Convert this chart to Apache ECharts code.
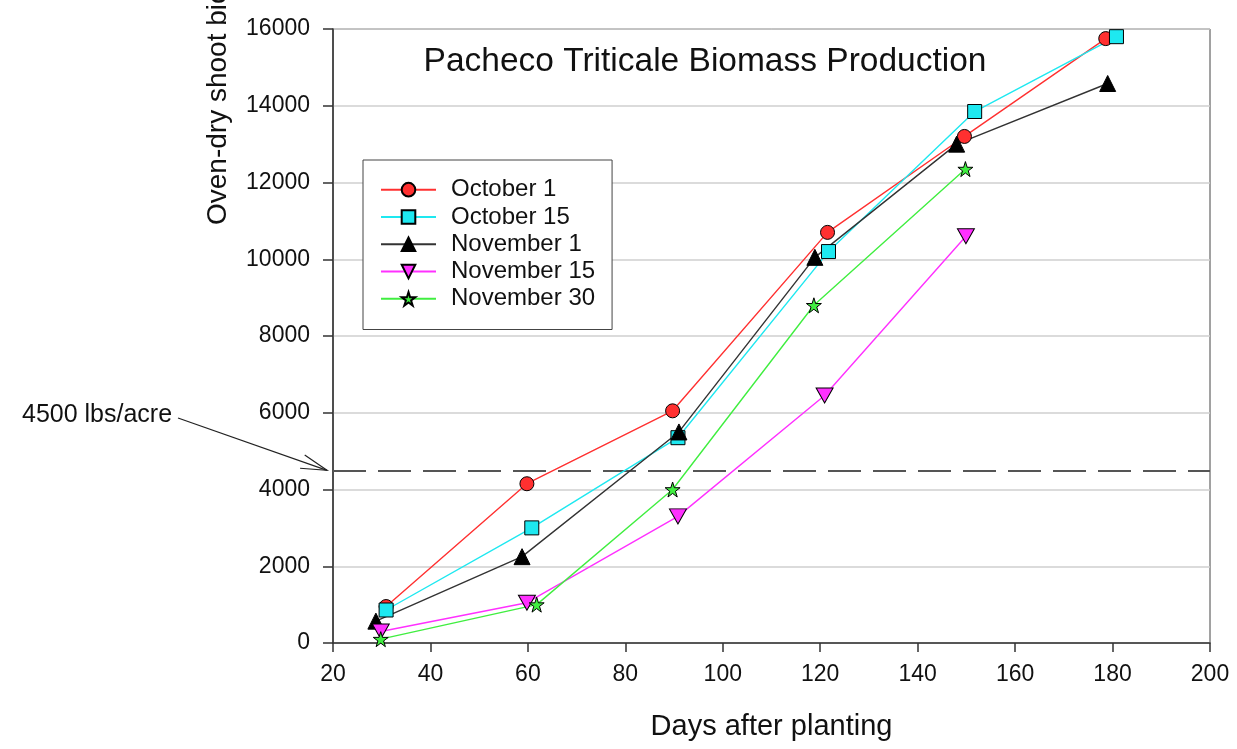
<!DOCTYPE html>
<html>
<head>
<meta charset="utf-8">
<script src="https://cdn.jsdelivr.net/npm/echarts@6/dist/echarts.min.js"></script>
<style>
  html, body { margin: 0; padding: 0; background: #fff; }
  #chart { width: 1237px; height: 749px; }
</style>
</head>
<body>
<div id="chart"></div>
<script>
// Days after planting (x) and oven-dry shoot biomass in lbs/acre (y), per planting date
const seriesNames = ['October 1', 'October 15', 'November 1', 'November 15', 'November 30'];

const october1 = [[30.9, 950], [59.8, 4150], [89.7, 6050], [121.5, 10700], [149.6, 13200], [178.6, 15750]];
const october15 = [[30.9, 860], [60.8, 3000], [90.8, 5350], [121.7, 10200], [151.7, 13850], [180.8, 15800]];
const november1 = [[28.8, 570], [58.8, 2250], [91.0, 5500], [118.9, 10050], [148.0, 13000], [179.0, 14580]];
const november15 = [[29.8, 300], [59.8, 1050], [90.8, 3300], [120.9, 6450], [149.9, 10600]];
const november30 = [[29.8, 100], [61.8, 1000], [89.7, 4000], [118.7, 8800], [149.8, 12350]];

const targetBiomass = 4500;
const targetLabel = '4500 lbs/acre';

const xTicks = { min: 20, max: 200, interval: 20 };
const yTicks = { min: 0, max: 16000, interval: 2000 };

const FONT = '"Liberation Sans", Arial, sans-serif';
const STAR = 'path://M50,0 L61.2,34.5 L97.6,34.5 L68.2,55.9 L79.4,90.5 L50,69.1 L20.6,90.5 L31.8,55.9 L2.4,34.5 L38.8,34.5 Z';
const DOWN_TRI = 'path://M0,0 L100,0 L50,87 Z';

const styles = [
  { color: '#ff3030', symbol: 'circle', size: 14 },
  { color: '#1ee8f0', symbol: 'rect', size: 14 },
  { color: '#333333', symbol: 'triangle', size: 16, fill: '#000000' },
  { color: '#ff30ff', symbol: DOWN_TRI, size: [17, 15] },
  { color: '#40ee40', symbol: STAR, size: 15 }
];

const datasets = [october1, october15, november1, november15, november30];

const chart = echarts.init(document.getElementById('chart'), null, { renderer: 'canvas' });

const series = datasets.map((data, i) => {
  const s = styles[i];
  const item = {
    name: seriesNames[i],
    type: 'line',
    data: data,
    symbol: s.symbol,
    symbolSize: s.size,
    showAllSymbol: true,
    lineStyle: { color: s.color, width: 1.4 },
    itemStyle: { color: s.fill || s.color, borderColor: '#000', borderWidth: 1 },
    emphasis: { disabled: true },
    animation: false,
    z: 3
  };
  if (i === 0) {
    item.markLine = {
      silent: true,
      symbol: 'none',
      label: { show: false },
      lineStyle: { color: '#555', width: 2, type: [33, 12] },
      data: [{ yAxis: targetBiomass }],
      z: 1
    };
  }
  return item;
});

const option = {
  backgroundColor: '#fff',
  animation: false,
  title: {
    text: 'Pacheco Triticale Biomass Production',
    left: 700,
    top: 40,
    textAlign: 'center',
    textStyle: { fontFamily: FONT, fontSize: 33.5, fontWeight: 'normal', color: '#111' }
  },
  legend: {
    orient: 'vertical',
    left: 363,
    top: 160,
    padding: [16, 17, 17, 17],
    backgroundColor: '#fff',
    borderColor: '#444',
    borderWidth: 1,
    borderRadius: 0,
    itemWidth: 55,
    itemHeight: 17,
    itemGap: 0,
    data: seriesNames,
    textStyle: { fontFamily: FONT, fontSize: 24, color: '#111', lineHeight: 27.3, padding: [0, 0, 0, 10] }
  },
  grid: {
    left: 333, right: 27, top: 29, bottom: 106,
    show: true,
    borderColor: '#444',
    borderWidth: 1,
    backgroundColor: 'transparent'
  },
  xAxis: {
    type: 'value',
    min: xTicks.min, max: xTicks.max, interval: xTicks.interval,
    name: 'Days after planting',
    nameLocation: 'middle',
    nameGap: 69,
    nameTextStyle: { fontFamily: FONT, fontSize: 29, color: '#111' },
    axisLine: { show: true, onZero: false, lineStyle: { color: '#333', width: 1.5 } },
    axisTick: { show: true, length: 9, lineStyle: { color: '#333', width: 1.5 } },
    axisLabel: { fontFamily: FONT, fontSize: 23, color: '#111', margin: 20 },
    splitLine: { show: false }
  },
  yAxis: {
    type: 'value',
    min: yTicks.min, max: yTicks.max, interval: yTicks.interval,
    axisLine: { show: true, onZero: false, lineStyle: { color: '#333', width: 1.5 } },
    axisTick: { show: true, length: 10, lineStyle: { color: '#333', width: 1.5 } },
    axisLabel: { fontFamily: FONT, fontSize: 23, color: '#111', margin: 23, formatter: v => String(v) },
    splitLine: { show: true, lineStyle: { color: '#cfcfcf', width: 1.5 } }
  },
  series: series
};

chart.setOption(option);

// Annotation for the target biomass line: label, arrow shaft and open arrowhead
const tip = chart.convertToPixel({ xAxisIndex: 0, yAxisIndex: 0 }, [xTicks.min, targetBiomass]);
const tipX = tip[0] - 6, tipY = tip[1];
const startX = 178, startY = 418;
const ang = Math.atan2(startY - tipY, startX - tipX);
const barbLen = 27, spread = 15 * Math.PI / 180;
const b1 = [tipX + barbLen * Math.cos(ang + spread), tipY + barbLen * Math.sin(ang + spread)];
const b2 = [tipX + barbLen * Math.cos(ang - spread), tipY + barbLen * Math.sin(ang - spread)];

chart.setOption({
  graphic: [
    {
      type: 'text',
      left: 22,
      top: 403,
      style: { text: targetLabel, font: '25px ' + FONT, fill: '#111' }
    },
    {
      type: 'line',
      shape: { x1: startX, y1: startY, x2: tipX, y2: tipY },
      style: { stroke: '#222', lineWidth: 1.2 }
    },
    {
      type: 'polyline',
      shape: { points: [b1, [tipX, tipY], b2] },
      style: { stroke: '#222', lineWidth: 1.2, fill: null }
    },
    {
      type: 'text',
      x: 218,
      y: 225,
      rotation: Math.PI / 2,
      style: {
        text: 'Oven-dry shoot biomass (lbs/acre)',
        font: '28px ' + FONT,
        fill: '#111',
        textAlign: 'left',
        textVerticalAlign: 'middle'
      }
    }
  ]
});
</script>
</body>
</html>
